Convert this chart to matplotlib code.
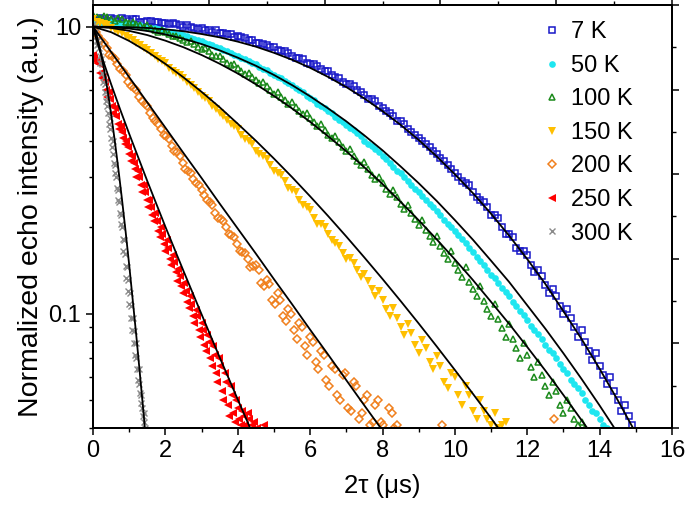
import numpy as np
import matplotlib.pyplot as plt
from matplotlib.ticker import FixedLocator, FixedFormatter, LogLocator, MultipleLocator, NullFormatter

plt.rcParams['font.family'] = ['Liberation Sans', 'DejaVu Sans']
plt.rcParams['font.size'] = 17

# normalized echo intensity on a regular 2tau grid; the "_b" lists sit half a step later
echo_7k = [1.06, 1.07, 1.05, 1.06, 1.07, 1.05, 1.06, 1.04, 1.05, 1.04,
           1.03, 1.03, 1.01, 1.01, 0.99, 0.99, 0.97, 0.97, 0.95, 0.94,
           0.93, 0.91, 0.90, 0.88, 0.86, 0.85, 0.82, 0.81, 0.78, 0.77,
           0.74, 0.73, 0.70, 0.68, 0.66, 0.63, 0.62, 0.59, 0.56, 0.55,
           0.52, 0.50, 0.47, 0.46, 0.43, 0.41, 0.39, 0.37, 0.35, 0.33,
           0.31, 0.29, 0.28, 0.255, 0.245, 0.22, 0.215, 0.19, 0.185, 0.165,
           0.16, 0.14, 0.135, 0.118, 0.115, 0.10, 0.097, 0.083, 0.080, 0.069,
           0.066, 0.057, 0.054, 0.046, 0.044, 0.039]
echo_7k_b = [1.05, 1.06, 1.07, 1.05, 1.06, 1.06, 1.04, 1.05, 1.04, 1.03,
             1.02, 1.02, 1.00, 1.00, 0.98, 0.97, 0.96, 0.95, 0.94, 0.92,
             0.92, 0.90, 0.88, 0.87, 0.85, 0.83, 0.82, 0.79, 0.78, 0.75,
             0.74, 0.71, 0.70, 0.67, 0.64, 0.63, 0.60, 0.58, 0.56, 0.53,
             0.51, 0.49, 0.47, 0.44, 0.42, 0.40, 0.38, 0.36, 0.34, 0.32,
             0.30, 0.285, 0.265, 0.25, 0.235, 0.22, 0.20, 0.19, 0.17, 0.165,
             0.148, 0.142, 0.126, 0.122, 0.106, 0.104, 0.090, 0.088, 0.074, 0.073,
             0.061, 0.060, 0.050, 0.048, 0.041]
echo_50k = [1.04, 1.04, 1.03, 1.03, 1.02, 1.02, 1.01, 1.00, 0.99, 0.98,
            0.965, 0.955, 0.94, 0.925, 0.905, 0.89, 0.87, 0.85, 0.83, 0.81,
            0.79, 0.77, 0.75, 0.725, 0.705, 0.68, 0.66, 0.635, 0.61, 0.59,
            0.565, 0.54, 0.52, 0.50, 0.475, 0.455, 0.435, 0.415, 0.39, 0.375,
            0.355, 0.335, 0.315, 0.30, 0.28, 0.265, 0.25, 0.235, 0.22, 0.205,
            0.195, 0.182, 0.17, 0.158, 0.148, 0.137, 0.128, 0.119, 0.110, 0.102,
            0.095, 0.088, 0.082, 0.075, 0.070, 0.064, 0.059, 0.055, 0.050, 0.046,
            0.043, 0.040]
echo_50k_b = [1.05, 1.03, 1.04, 1.02, 1.03, 1.01, 1.01, 0.99, 0.99, 0.97,
              0.96, 0.945, 0.935, 0.915, 0.90, 0.88, 0.86, 0.84, 0.82, 0.80,
              0.78, 0.76, 0.74, 0.715, 0.69, 0.67, 0.645, 0.625, 0.60, 0.575,
              0.555, 0.53, 0.51, 0.485, 0.465, 0.445, 0.425, 0.40, 0.385, 0.365,
              0.345, 0.325, 0.31, 0.29, 0.272, 0.258, 0.242, 0.228, 0.212, 0.20,
              0.188, 0.176, 0.164, 0.153, 0.142, 0.133, 0.123, 0.115, 0.106, 0.099,
              0.091, 0.085, 0.078, 0.073, 0.067, 0.062, 0.057, 0.053, 0.048, 0.045,
              0.041]
echo_100k = [1.10, 1.07, 1.08, 1.05, 1.06, 1.03, 1.02, 1.00, 0.99, 0.96,
             0.955, 0.925, 0.915, 0.885, 0.87, 0.835, 0.82, 0.79, 0.77, 0.735,
             0.72, 0.685, 0.67, 0.635, 0.62, 0.585, 0.57, 0.54, 0.525, 0.495,
             0.48, 0.45, 0.435, 0.41, 0.395, 0.37, 0.355, 0.33, 0.32, 0.295,
             0.285, 0.262, 0.255, 0.232, 0.225, 0.203, 0.196, 0.178, 0.172, 0.155,
             0.150, 0.134, 0.129, 0.115, 0.111, 0.098, 0.096, 0.083, 0.082, 0.070,
             0.072, 0.060, 0.061, 0.052, 0.054, 0.045, 0.047, 0.041, 0.040]
echo_100k_b = [1.08, 1.09, 1.06, 1.07, 1.04, 1.04, 1.01, 1.01, 0.97, 0.97,
               0.94, 0.93, 0.90, 0.89, 0.85, 0.84, 0.80, 0.79, 0.75, 0.74,
               0.70, 0.69, 0.65, 0.64, 0.60, 0.59, 0.555, 0.545, 0.51, 0.50,
               0.465, 0.46, 0.42, 0.415, 0.38, 0.375, 0.34, 0.338, 0.305, 0.30,
               0.272, 0.27, 0.242, 0.24, 0.214, 0.212, 0.186, 0.187, 0.163, 0.165,
               0.142, 0.145, 0.122, 0.125, 0.104, 0.108, 0.089, 0.092, 0.076, 0.079,
               0.065, 0.068, 0.056, 0.058, 0.048, 0.050, 0.043, 0.042]
echo_150k = [1.06, 1.03, 1.01, 0.97, 0.95, 0.91, 0.88, 0.84, 0.81, 0.77,
             0.745, 0.70, 0.68, 0.64, 0.61, 0.575, 0.55, 0.515, 0.49, 0.46,
             0.44, 0.405, 0.39, 0.36, 0.345, 0.315, 0.305, 0.275, 0.265, 0.24,
             0.23, 0.205, 0.20, 0.18, 0.172, 0.155, 0.150, 0.134, 0.130, 0.115,
             0.112, 0.098, 0.097, 0.084, 0.086, 0.073, 0.076, 0.064, 0.066, 0.055,
             0.060, 0.048, 0.052, 0.043, 0.046, 0.041, 0.040, 0.042]
echo_150k_b = [1.04, 1.02, 0.99, 0.96, 0.93, 0.90, 0.86, 0.83, 0.79, 0.76,
               0.72, 0.69, 0.66, 0.625, 0.59, 0.565, 0.53, 0.50, 0.475, 0.45,
               0.42, 0.40, 0.37, 0.355, 0.33, 0.31, 0.29, 0.27, 0.25, 0.235,
               0.215, 0.205, 0.19, 0.176, 0.163, 0.157, 0.142, 0.138, 0.122, 0.12,
               0.104, 0.105, 0.09, 0.092, 0.078, 0.081, 0.068, 0.071, 0.058, 0.062,
               0.052, 0.056, 0.046, 0.050, 0.043, 0.045, 0.041]
echo_200k = [1.00, 0.93, 0.88, 0.80, 0.77, 0.71, 0.68, 0.62, 0.60, 0.55,
             0.53, 0.48, 0.46, 0.42, 0.405, 0.37, 0.355, 0.32, 0.31, 0.285,
             0.27, 0.25, 0.24, 0.215, 0.21, 0.19, 0.185, 0.165, 0.163, 0.145,
             0.148, 0.128, 0.131, 0.112, 0.118, 0.098, 0.104, 0.088, 0.093, 0.077,
             0.083, 0.068, 0.074, 0.059, 0.066, 0.052, 0.061, 0.047, 0.058, 0.043,
             0.050, 0.041, 0.048, 0.042, 0.039, 0.045, 0.041]
echo_200k_b = [0.96, 0.90, 0.84, 0.79, 0.74, 0.70, 0.64, 0.61, 0.57, 0.54,
               0.50, 0.47, 0.44, 0.415, 0.385, 0.365, 0.335, 0.315, 0.295, 0.28,
               0.26, 0.245, 0.225, 0.213, 0.20, 0.188, 0.175, 0.164, 0.155, 0.147,
               0.142, 0.125, 0.127, 0.108, 0.112, 0.094, 0.10, 0.082, 0.09, 0.072,
               0.08, 0.064, 0.072, 0.056, 0.064, 0.05, 0.062, 0.046, 0.056, 0.045,
               0.052, 0.042, 0.05, 0.041, 0.047, 0.040]
echo_250k = [0.80, 0.76, 0.74, 0.66, 0.64, 0.57, 0.56, 0.50, 0.49, 0.44,
             0.43, 0.39, 0.38, 0.34, 0.335, 0.30, 0.30, 0.265, 0.265, 0.235,
             0.235, 0.21, 0.21, 0.185, 0.19, 0.165, 0.17, 0.148, 0.152, 0.13,
             0.135, 0.118, 0.12, 0.105, 0.108, 0.093, 0.098, 0.083, 0.088, 0.074,
             0.08, 0.066, 0.072, 0.058, 0.066, 0.050, 0.058, 0.044, 0.052, 0.042,
             0.047, 0.041, 0.044, 0.040, 0.043, 0.041, 0.038, 0.039, 0.036, 0.041]
echo_250k_b = [0.78, 0.75, 0.69, 0.67, 0.60, 0.59, 0.53, 0.52, 0.46, 0.45,
               0.41, 0.40, 0.36, 0.355, 0.32, 0.315, 0.28, 0.28, 0.25, 0.25,
               0.22, 0.225, 0.195, 0.20, 0.175, 0.18, 0.155, 0.16, 0.14, 0.143,
               0.125, 0.128, 0.11, 0.115, 0.098, 0.103, 0.088, 0.093, 0.078, 0.084,
               0.07, 0.077, 0.062, 0.07, 0.054, 0.062, 0.048, 0.056, 0.045, 0.05,
               0.043, 0.046, 0.041, 0.045, 0.039, 0.042, 0.040, 0.038, 0.037]
echo_300k = [1.02, 0.95, 0.93, 0.86, 0.84, 0.75, 0.74, 0.64, 0.63, 0.55,
             0.53, 0.46, 0.44, 0.38, 0.36, 0.31, 0.30, 0.25, 0.245, 0.205,
             0.20, 0.165, 0.162, 0.133, 0.131, 0.108, 0.106, 0.088, 0.087, 0.072,
             0.070, 0.059, 0.057, 0.049, 0.047, 0.042, 0.040, 0.037, 0.039]
echo_300k_b = [0.99, 0.96, 0.89, 0.87, 0.79, 0.77, 0.69, 0.67, 0.59, 0.57,
               0.50, 0.48, 0.41, 0.40, 0.335, 0.33, 0.275, 0.27, 0.225, 0.22,
               0.182, 0.18, 0.147, 0.146, 0.12, 0.118, 0.097, 0.097, 0.079, 0.079,
               0.064, 0.064, 0.053, 0.052, 0.044, 0.045, 0.039, 0.038]

# a few stray 200 K points far out in the tail
extra_200k_t = [9.65, 12.75]
extra_200k_y = [0.041, 0.043]

# fit curves (black lines)
fit_7k = [1.0, 0.999, 0.996, 0.990, 0.979, 0.964, 0.943, 0.918, 0.887, 0.852,
          0.811, 0.767, 0.719, 0.668, 0.616, 0.562, 0.508, 0.455, 0.403, 0.353,
          0.306, 0.263, 0.223, 0.187, 0.155, 0.127, 0.102, 0.0817, 0.0643, 0.050, 0.0384]
fit_50k = [1.0, 0.996, 0.985, 0.966, 0.940, 0.908, 0.870, 0.827, 0.780, 0.731,
           0.679, 0.626, 0.572, 0.519, 0.468, 0.418, 0.371, 0.326, 0.285, 0.247,
           0.212, 0.181, 0.153, 0.129, 0.107, 0.0887, 0.0728, 0.0593, 0.0479, 0.0384]
fit_100k = [1.0, 0.990, 0.967, 0.935, 0.894, 0.848, 0.797, 0.743, 0.687, 0.630,
            0.574, 0.519, 0.466, 0.415, 0.368, 0.3235, 0.283, 0.2455, 0.2117, 0.1815,
            0.1546, 0.131, 0.110, 0.0922, 0.0766, 0.0634, 0.0521, 0.0426, 0.0348]
fit_150k = [1.0, 0.957, 0.892, 0.818, 0.742, 0.666, 0.593, 0.524, 0.459, 0.4006,
            0.3472, 0.2993, 0.2565, 0.2188, 0.1858, 0.157, 0.1322, 0.1108, 0.0925, 0.0769,
            0.0637, 0.0526, 0.0433, 0.0355]
fit_200k = [1.0, 0.817, 0.667, 0.545, 0.445, 0.363, 0.297, 0.242, 0.198, 0.162,
            0.132, 0.108, 0.088, 0.072, 0.0587, 0.0479, 0.0392, 0.032]
fit_250k_t = [0, 0.05, 0.1, 0.2, 0.3, 0.5, 0.75, 1.0, 1.5, 2.0, 2.5, 3.0, 3.5, 4.0, 4.5]
fit_250k = [1.0, 0.944, 0.897, 0.817, 0.748, 0.631, 0.515, 0.4236, 0.290, 0.201,
            0.141, 0.0996, 0.0705, 0.0503, 0.036]
fit_300k = [1.0, 0.934, 0.831, 0.716, 0.603, 0.497, 0.402, 0.320, 0.251, 0.194,
            0.148, 0.111, 0.083, 0.061, 0.0446, 0.032]

labels = ['7 K', '50 K', '100 K', '150 K', '200 K', '250 K', '300 K']
colors = ['#1818c8', '#1ee6f0', '#1b8a1b', '#ffbf00', '#f0801e', '#ff0000', '#8a8a8a']


def grid(a, b, step):
    """ time axis for a pair of interleaved lists """
    return np.concatenate([np.arange(len(a)) * step, (np.arange(len(b)) + 0.5) * step])


t = {
    '7 K': grid(echo_7k, echo_7k_b, 0.2),
    '50 K': grid(echo_50k, echo_50k_b, 0.2),
    '100 K': grid(echo_100k, echo_100k_b, 0.2),
    '150 K': grid(echo_150k, echo_150k_b, 0.2),
    '200 K': np.concatenate([grid(echo_200k, echo_200k_b, 0.15), extra_200k_t]),
    '250 K': grid(echo_250k, echo_250k_b, 0.08),
    '300 K': grid(echo_300k, echo_300k_b, 0.04),
}
y = {
    '7 K': echo_7k + echo_7k_b,
    '50 K': echo_50k + echo_50k_b,
    '100 K': echo_100k + echo_100k_b,
    '150 K': echo_150k + echo_150k_b,
    '200 K': echo_200k + echo_200k_b + extra_200k_y,
    '250 K': echo_250k + echo_250k_b,
    '300 K': echo_300k + echo_300k_b,
}
style = {
    '7 K': dict(marker='s', ms=4.5, mfc='none', mew=1.1),
    '50 K': dict(marker='o', ms=4.8, mew=0),
    '100 K': dict(marker='^', ms=5, mfc='none', mew=1.1),
    '150 K': dict(marker='v', ms=5.8, mew=0),
    '200 K': dict(marker='D', ms=4, mfc='none', mew=1.1),
    '250 K': dict(marker='<', ms=5.8, mew=0),
    '300 K': dict(marker='x', ms=4.5, mew=1.0),
}

fig = plt.figure(figsize=(6.85, 5.07), dpi=100)
ax = fig.add_axes([93 / 685, 1 - 428 / 507, 579 / 685, 423 / 507])

handles = []
for name, c in zip(labels, colors):
    h, = ax.plot(t[name], y[name], ls='none', color=c, label=name, **style[name])
    handles.append(h)

# fit lines on top of the data
fits = [
    (np.arange(len(fit_7k)) * 0.5, fit_7k),
    (np.arange(len(fit_50k)) * 0.5, fit_50k),
    (np.arange(len(fit_100k)) * 0.5, fit_100k),
    (np.arange(len(fit_150k)) * 0.5, fit_150k),
    (np.arange(len(fit_200k)) * 0.5, fit_200k),
    (fit_250k_t, fit_250k),
    (np.arange(len(fit_300k)) * 0.1, fit_300k),
]
for fx, fy in fits:
    ax.plot(fx, fy, color='black', lw=1.3)

ax.set_yscale('log')
ax.set_xlim(0, 16)
ax.set_ylim(0.04, 1.19)
ax.xaxis.set_major_locator(MultipleLocator(2))
ax.xaxis.set_minor_locator(MultipleLocator(1))
ax.yaxis.set_major_locator(FixedLocator([0.1, 1.0]))
ax.yaxis.set_major_formatter(FixedFormatter(['0.1', '10']))
ax.yaxis.set_minor_locator(LogLocator(base=10, subs=np.arange(2, 10)))
ax.yaxis.set_minor_formatter(NullFormatter())

ax.set_xlabel('2τ (μs)', fontsize=18.5, labelpad=9)
ax.set_ylabel('Normalized echo intensity (a.u.)', fontsize=20.5, labelpad=3)

# unlabeled linear ticks on top and right
ax_top = ax.twiny()
ax_top.set_xlim(0, 1)
ax_top.xaxis.set_major_locator(MultipleLocator(0.2))
ax_top.xaxis.set_minor_locator(MultipleLocator(0.1))
ax_top.tick_params(axis='x', which='both', labeltop=False)
ax_right = ax.twinx()
ax_right.set_ylim(0, 1)
ax_right.yaxis.set_major_locator(MultipleLocator(0.2))
ax_right.yaxis.set_minor_locator(MultipleLocator(0.1))
ax_right.tick_params(axis='y', which='both', labelright=False)

for a in (ax, ax_top, ax_right):
    a.tick_params(which='major', direction='out', length=5, width=1.1, labelsize=17)
    a.tick_params(which='minor', direction='out', length=3, width=1.0)
    for s in a.spines.values():
        s.set_linewidth(1.3)

ax.legend(handles=handles, loc='upper left', bbox_to_anchor=(0.76, 0.984),
          frameon=False, fontsize=17, handlelength=0.8, handletextpad=0.4,
          labelspacing=0.49, borderaxespad=0, borderpad=0.4)

fig.savefig('out.png', dpi=100)
